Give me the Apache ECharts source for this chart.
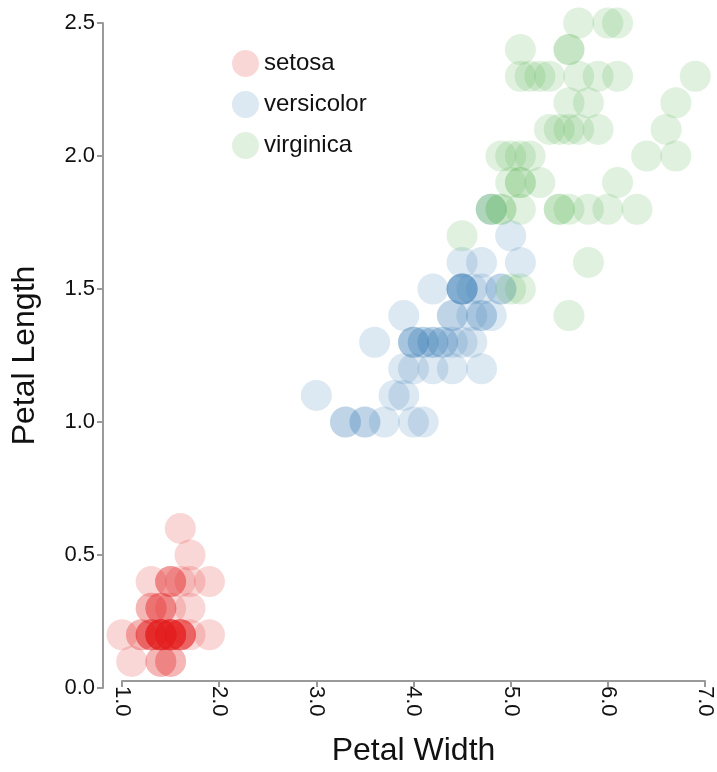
<!DOCTYPE html>
<html>
<head>
<meta charset="utf-8">
<script src="https://cdn.jsdelivr.net/npm/echarts@6/dist/echarts.min.js"></script>
<style>
  html, body { margin: 0; padding: 0; background: #fff; }
  #chart { width: 717px; height: 772px; }
</style>
</head>
<body>
<div id="chart"></div>
<script>
// species names
const species = ['setosa', 'versicolor', 'virginica'];
const colors = ['rgba(228, 26, 28, 0.22)', 'rgba(55, 126, 184, 0.22)', 'rgba(77, 175, 74, 0.22)'];

// [x, y] pairs per species
const setosa = [
  [1.4, 0.2], [1.4, 0.2], [1.3, 0.2], [1.5, 0.2], [1.4, 0.2], [1.7, 0.4], [1.4, 0.3], [1.5, 0.2],
  [1.4, 0.2], [1.5, 0.1], [1.5, 0.2], [1.6, 0.2], [1.4, 0.1], [1.1, 0.1], [1.2, 0.2], [1.5, 0.4],
  [1.3, 0.4], [1.4, 0.3], [1.7, 0.3], [1.5, 0.3], [1.7, 0.2], [1.5, 0.4], [1.0, 0.2], [1.7, 0.5],
  [1.9, 0.2], [1.6, 0.2], [1.6, 0.4], [1.5, 0.2], [1.4, 0.2], [1.6, 0.2], [1.6, 0.2], [1.5, 0.4],
  [1.5, 0.1], [1.4, 0.2], [1.5, 0.2], [1.2, 0.2], [1.3, 0.2], [1.4, 0.1], [1.3, 0.2], [1.5, 0.2],
  [1.3, 0.3], [1.3, 0.3], [1.3, 0.2], [1.6, 0.6], [1.9, 0.4], [1.4, 0.3], [1.6, 0.2], [1.4, 0.2],
  [1.5, 0.2], [1.4, 0.2]
];
const versicolor = [
  [4.7, 1.4], [4.5, 1.5], [4.9, 1.5], [4.0, 1.3], [4.6, 1.5], [4.5, 1.3], [4.7, 1.6], [3.3, 1.0],
  [4.6, 1.3], [3.9, 1.4], [3.5, 1.0], [4.2, 1.5], [4.0, 1.0], [4.7, 1.4], [3.6, 1.3], [4.4, 1.4],
  [4.5, 1.5], [4.1, 1.0], [4.5, 1.5], [3.9, 1.1], [4.8, 1.8], [4.0, 1.3], [4.9, 1.5], [4.7, 1.2],
  [4.3, 1.3], [4.4, 1.4], [4.8, 1.4], [5.0, 1.7], [4.5, 1.5], [3.5, 1.0], [3.8, 1.1], [3.7, 1.0],
  [3.9, 1.2], [5.1, 1.6], [4.5, 1.5], [4.5, 1.6], [4.7, 1.5], [4.4, 1.3], [4.1, 1.3], [4.0, 1.3],
  [4.4, 1.2], [4.6, 1.4], [4.0, 1.2], [3.3, 1.0], [4.2, 1.3], [4.2, 1.2], [4.2, 1.3], [4.3, 1.3],
  [3.0, 1.1], [4.1, 1.3]
];
const virginica = [
  [6.0, 2.5], [5.1, 1.9], [5.9, 2.1], [5.6, 1.8], [5.8, 2.2], [6.6, 2.1], [4.5, 1.7], [6.3, 1.8],
  [5.8, 1.8], [6.1, 2.5], [5.1, 2.0], [5.3, 1.9], [5.5, 2.1], [5.0, 2.0], [5.1, 2.4], [5.3, 2.3],
  [5.5, 1.8], [6.7, 2.2], [6.9, 2.3], [5.0, 1.5], [5.7, 2.3], [4.9, 2.0], [6.7, 2.0], [4.9, 1.8],
  [5.7, 2.1], [6.0, 1.8], [4.8, 1.8], [4.9, 1.8], [5.6, 2.1], [5.8, 1.6], [6.1, 1.9], [6.4, 2.0],
  [5.6, 2.2], [5.1, 1.5], [5.6, 1.4], [6.1, 2.3], [5.6, 2.4], [5.5, 1.8], [4.8, 1.8], [5.4, 2.1],
  [5.6, 2.4], [5.1, 2.3], [5.1, 1.9], [5.9, 2.3], [5.7, 2.5], [5.2, 2.3], [5.0, 1.9], [5.2, 2.0],
  [5.4, 2.3], [5.1, 1.8]
];
const seriesData = [setosa, versicolor, virginica];

const chart = echarts.init(document.getElementById('chart'));
const axisColor = '#9a9a9a';
const font = 'Liberation Sans, Arial, sans-serif';

chart.setOption({
  animation: false,
  grid: { left: 122, right: 12, top: 23, bottom: 82 },
  legend: {
    orient: 'vertical',
    left: 227,
    top: 45,
    icon: 'circle',
    itemWidth: 27,
    itemHeight: 27,
    itemGap: 14,
    textStyle: { fontSize: 24, color: '#111', fontFamily: font },
    data: species
  },
  xAxis: {
    type: 'value',
    min: 1,
    max: 7,
    interval: 1,
    offset: -7,
    name: 'Petal Width',
    nameLocation: 'middle',
    nameGap: 54,
    nameTextStyle: { fontSize: 32, color: '#111', fontFamily: font },
    axisLine: { show: true, lineStyle: { color: axisColor, width: 2 } },
    axisTick: { show: true, length: 6, lineStyle: { color: axisColor, width: 2 } },
    axisLabel: {
      rotate: -90,
      fontSize: 22,
      color: '#111',
      fontFamily: font,
      margin: 5,
      formatter: v => v.toFixed(1)
    },
    splitLine: { show: false }
  },
  yAxis: {
    type: 'value',
    min: 0,
    max: 2.5,
    interval: 0.5,
    offset: 19,
    name: 'Petal Length',
    nameLocation: 'middle',
    nameGap: 62,
    nameTextStyle: { fontSize: 32, color: '#111', fontFamily: font },
    axisLine: { show: true, lineStyle: { color: axisColor, width: 2 } },
    axisTick: { show: true, length: 6, lineStyle: { color: axisColor, width: 2 } },
    axisLabel: {
      fontSize: 22,
      color: '#111',
      fontFamily: font,
      margin: 8,
      formatter: v => v.toFixed(1)
    },
    splitLine: { show: false }
  },
  series: species.map((name, i) => ({
    name: name,
    type: 'scatter',
    symbolSize: 31,
    itemStyle: { color: colors[i] },
    emphasis: { disabled: true },
    data: seriesData[i]
  }))
});
</script>
</body>
</html>
